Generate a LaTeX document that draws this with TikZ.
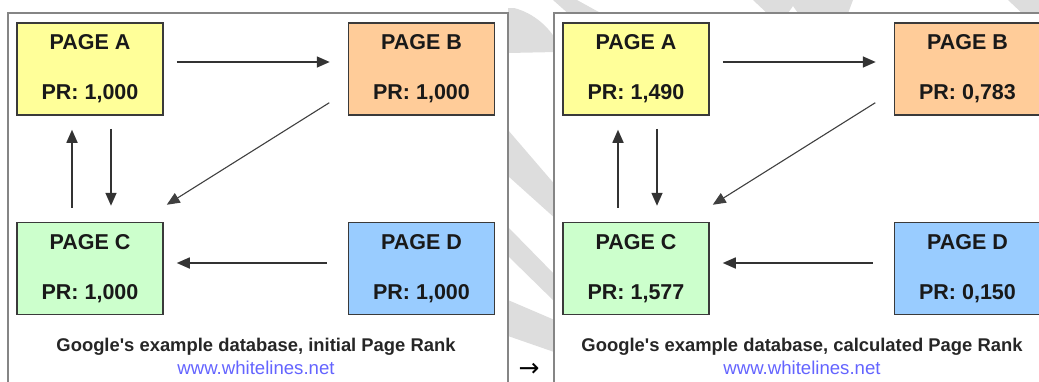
\documentclass[tikz,border=0pt]{standalone}
\usepackage{fontspec}
\setmainfont{Liberation Sans}
\newfontfamily\dejavu{DejaVu Sans}
\usetikzlibrary{arrows.meta,calc}
\definecolor{pa}{HTML}{FFFF99}
\definecolor{pb}{HTML}{FFCC99}
\definecolor{pc}{HTML}{CCFFCC}
\definecolor{pd}{HTML}{99CCFF}
\definecolor{framegray}{HTML}{858585}
\definecolor{boxline}{HTML}{3A3A3A}
\definecolor{wm}{HTML}{DDDDDD}
\definecolor{urlblue}{HTML}{6464FF}
\tikzset{
  pagebox/.style={draw=boxline, line width=1.5pt, minimum width=146pt, minimum height=92pt,
    inner sep=0pt, align=center, font=\bfseries\fontsize{21.5}{50}\selectfont, text=black!90},
  frame/.style={draw=framegray, line width=2.8pt, fill=white},
  conn/.style={draw=black!80, line width=1.6pt, -{Triangle[length=13pt,width=11pt]}},
  thinconn/.style={draw=black!75, line width=1.1pt, -{Triangle[length=13pt,width=11pt]}},
  captxt/.style={font=\bfseries\fontsize{18.4}{20}\selectfont, text=black!85, inner sep=0pt},
  urltxt/.style={font=\fontsize{18.6}{20}\selectfont, text=urlblue, inner sep=0pt},
  wmshape/.style={fill=wm, draw=none}
}
\newcommand\drawpanel[7]{%
\begin{scope}[xshift=#1]
  \draw[frame] (8,13) rectangle (508,400);
  \node[pagebox, fill=pa] (A#2) at (90,69) {PAGE A\\PR: #3};
  \node[pagebox, fill=pb] (B#2) at (421.5,69) {PAGE B\\PR: #4};
  \node[pagebox, fill=pc] (C#2) at (90,268.5) {PAGE C\\PR: #5};
  \node[pagebox, fill=pd] (D#2) at (421.5,268.5) {PAGE D\\PR: #6};
  \draw[conn, shorten <=13pt, shorten >=18pt] ([yshift=7pt]A#2.east) -- ([yshift=7pt]B#2.west);
  \draw[conn, shorten <=14pt, shorten >=14pt] ([xshift=-18pt]C#2.north) -- ([xshift=-18pt]A#2.south);
  \draw[conn, shorten <=13pt, shorten >=16pt] ([xshift=21pt]A#2.south) -- ([xshift=21pt]C#2.north);
  \draw[thinconn] ($(B#2.south west)+(-18.5,-13)$) -- ($(C#2.north east)+(3,-17)$);
  \draw[conn, shorten <=21pt, shorten >=13pt] ([yshift=5.5pt]D#2.west) -- ([yshift=5.5pt]C#2.east);
  \node[captxt] (cap#2) at (256,347) {#7};
  \node[urltxt] (url#2) at (256,368) {www.whitelines.net};
\end{scope}}
\begin{document}
\begin{tikzpicture}[x=1pt, y=-1pt]
\useasboundingbox (0,0) rectangle (1039,381);
\clip (0,0) rectangle (1039,381);
% watermark pieces visible outside the frames
\fill[wmshape] (508,8) -- (514,8) .. controls (534,13) and (550,28) .. (557,42) -- (557,52) -- (508,53) -- cycle;
\fill[wmshape] (508,130) -- (557,187) -- (557,220) -- (508,176) -- cycle;
\fill[wmshape] (508,227) -- (557,277) -- (557,304) -- (508,256) -- cycle;
\fill[wmshape] (508,300) -- (557,321) -- (557,353) -- (508,336) -- cycle;
\fill[wmshape] (553,0) -- (577,0) -- (606,16) -- (571,16) -- cycle;
\fill[wmshape] (753,0) -- (853,0) -- (847,16) -- (800,16) -- (793,6) -- (786,16) -- (770,16) -- cycle;
\fill[wmshape] (1008,0) -- (1039,0) -- (1039,16) -- (1025,16) -- cycle;
\drawpanel{0pt}{l}{1,000}{1,000}{1,000}{1,000}{Google\textquotesingle s example database, initial Page Rank}
\drawpanel{546pt}{r}{1,490}{0,783}{1,577}{0,150}{Google\textquotesingle s example database, calculated Page Rank}
\node[font=\dejavu\fontsize{25}{25}\selectfont, inner sep=0pt, text height=14pt, text depth=0pt, anchor=base] (arr) at (529,376) {→};
\end{tikzpicture}
\end{document}
